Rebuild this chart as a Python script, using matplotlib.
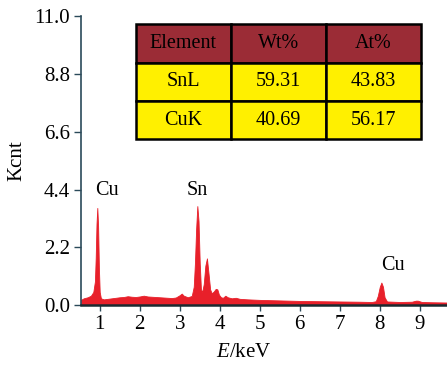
import matplotlib.pyplot as plt

plt.rcParams['font.family'] = ['Liberation Serif', 'DejaVu Serif']
plt.rcParams['mathtext.fontset'] = 'custom'
plt.rcParams['mathtext.it'] = 'Liberation Serif:italic'
plt.rcParams['mathtext.rm'] = 'Liberation Serif'

# EDS spectrum (keV, kcounts)
energy = [0.53, 0.60, 0.70, 0.78, 0.84, 0.88, 0.90, 0.92, 0.94, 0.96, 0.98, 1.00,
          1.03, 1.10, 1.20, 1.30, 1.40, 1.50, 1.60, 1.70, 1.80, 1.90, 2.00, 2.10,
          2.20, 2.30, 2.40, 2.50, 2.60, 2.70, 2.80, 2.90, 3.00, 3.05, 3.10, 3.20,
          3.30, 3.35, 3.38, 3.41, 3.44, 3.47, 3.50, 3.53, 3.56, 3.60, 3.64, 3.68,
          3.72, 3.76, 3.80, 3.85, 3.90, 3.94, 3.98, 4.03, 4.08, 4.14, 4.20, 4.30,
          4.40, 4.50, 4.70, 5.00, 5.50, 6.00, 6.50, 7.00, 7.50, 7.80, 7.90, 7.95,
          8.00, 8.04, 8.08, 8.12, 8.18, 8.50, 8.80, 8.90, 8.95, 9.05, 9.30, 9.68]
counts = [0.20, 0.26, 0.30, 0.36, 0.50, 0.90, 1.80, 3.10, 3.70, 3.00, 1.40, 0.50,
          0.26, 0.22, 0.24, 0.26, 0.28, 0.30, 0.31, 0.34, 0.32, 0.31, 0.33, 0.36,
          0.33, 0.32, 0.31, 0.30, 0.29, 0.28, 0.27, 0.29, 0.38, 0.44, 0.36, 0.30,
          0.35, 0.70, 1.60, 2.90, 3.77, 3.20, 1.60, 0.60, 0.50, 0.80, 1.50, 1.78,
          1.20, 0.60, 0.45, 0.52, 0.62, 0.60, 0.40, 0.30, 0.28, 0.36, 0.30, 0.26,
          0.28, 0.24, 0.22, 0.20, 0.18, 0.16, 0.15, 0.14, 0.13, 0.12, 0.15, 0.35,
          0.70, 0.86, 0.70, 0.30, 0.14, 0.12, 0.13, 0.17, 0.17, 0.12, 0.11, 0.10]

peak_labels = ['Cu', 'Sn', 'Cu']
peak_label_x = [1.18, 3.45, 8.33]
peak_label_y = [4.38, 4.38, 1.52]

col_labels = ['Element', 'Wt%', 'At%']
table_rows = [['SnL', '59.31', '43.83'],
              ['CuK', '40.69', '56.17']]

yticks = [0.0, 2.2, 4.4, 6.6, 8.8, 11.0]
xticks = [1, 2, 3, 4, 5, 6, 7, 8, 9]

spine_col = '#2b4a5a'

fig = plt.figure(figsize=(4.47, 3.65), dpi=100)
ax = fig.add_axes([0.181, 0.164, 0.819, 0.792])

ax.fill_between(energy, 0, counts, color='#e8202a', linewidth=0.6, edgecolor='#e8202a')

for t, x, y in zip(peak_labels, peak_label_x, peak_label_y):
    ax.text(x, y, t, ha='center', va='center', fontsize=14.5)

ax.set_xlim(0.53, 9.68)
ax.set_ylim(0, 11.0)
ax.set_yticks(yticks)
ax.set_yticklabels([f'{v:.1f}' for v in yticks])
ax.set_xticks(xticks)
ax.tick_params(axis='both', labelsize=15, color=spine_col, direction='out')
ax.tick_params(axis='y', length=5, width=1, pad=3)
ax.tick_params(axis='x', length=4, width=1, pad=3)

for s in ['top', 'right']:
    ax.spines[s].set_visible(False)
ax.spines['left'].set_color(spine_col)
ax.spines['left'].set_linewidth(1.2)
ax.spines['bottom'].set_color('#1a2a30')
ax.spines['bottom'].set_linewidth(1.8)

ax.set_ylabel('Kcnt', fontsize=15)
ax.yaxis.set_label_coords(-0.15, 0.5)
ax.set_xlabel('$E$/keV', fontsize=15)
ax.xaxis.set_label_coords(0.445, -0.13)

tab = ax.table(cellText=table_rows, colLabels=col_labels, cellLoc='center',
               bbox=[0.150, 0.574, 0.779, 0.398])
tab.auto_set_font_size(False)
tab.set_fontsize(14.5)
for (r, c), cell in tab.get_celld().items():
    cell.set_edgecolor('black')
    cell.set_linewidth(1.8)
    cell.set_facecolor('#9b2c36' if r == 0 else '#fff000')

fig.savefig('out.png', dpi=100)
